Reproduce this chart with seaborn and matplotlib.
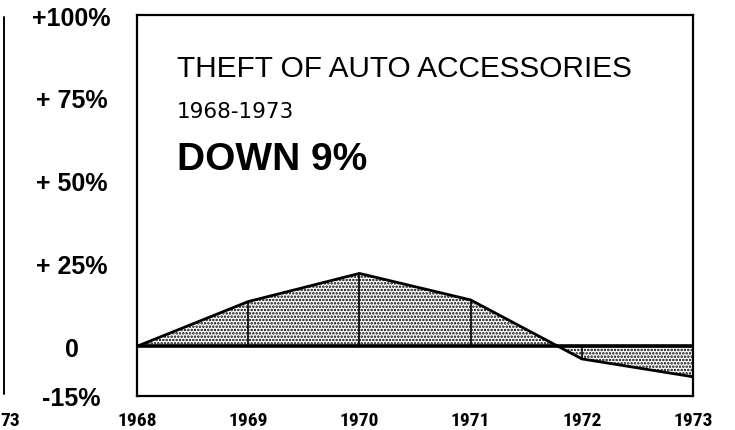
import matplotlib
matplotlib.use("Agg")
import matplotlib.pyplot as plt
import seaborn as sns
import pandas as pd
from matplotlib.lines import Line2D
from matplotlib import font_manager

# data (percent change vs. 1968)
years = [1968, 1969, 1970, 1971, 1972, 1973]
change = [0, 13.5, 22, 14, -3.8, -9.2]
ytick_values = [100, 75, 50, 25, 0, -15]
ytick_labels = ["+100%", "+ 75%", "+ 50%", "+ 25%", "0", "-15%"]

title = "THEFT OF AUTO ACCESSORIES"
period = "1968-1973"
headline = "DOWN 9%"

df = pd.DataFrame({"year": years, "change": change})

sns.set_theme(style="white")
plt.rcParams["hatch.linewidth"] = 1.2
plt.rcParams["text.color"] = "black"
plt.rcParams["xtick.color"] = "black"
plt.rcParams["ytick.color"] = "black"

# the year labels are printed in a condensed bold face
installed = {f.name for f in font_manager.fontManager.ttflist}
narrow = ["DejaVu Sans"]
for name in ["Liberation Sans Narrow", "Roboto Condensed", "DejaVu Sans Condensed",
             "Open Sans Condensed", "Noto Sans Condensed"]:
    if name in installed:
        narrow = [name, "DejaVu Sans"]
        break
plain = ["Liberation Sans", "DejaVu Sans"]

fig = plt.figure(figsize=(7.35, 4.31), dpi=100)
W, H = 735, 431
ax = fig.add_axes([137 / W, 1 - 397 / H, (693 - 137) / W, (397 - 16) / H])

# stippled area between the curve and zero
ax.fill_between(df["year"], df["change"], 0, facecolor="white",
                edgecolor="black", hatch=".....", linewidth=0)
sns.lineplot(data=df, x="year", y="change", color="black", linewidth=2.0, ax=ax)
ax.vlines(df["year"][1:-1], 0, df["change"][1:-1], color="black", linewidth=1.2)
ax.axhline(0, color="black", linewidth=2.6)

ax.set_xlim(years[0], years[-1])
ax.set_ylim(-15, 100)
ax.set_xlabel("")
ax.set_ylabel("")

ax.set_xticks(years)
ax.set_xticklabels([str(y) for y in years], family=narrow, fontweight="bold", fontsize=14)
ax.set_yticks(ytick_values)
ax.set_yticklabels(ytick_labels, family=plain, fontweight="bold", fontsize=18)
for lab in ax.get_yticklabels():
    lab.set_horizontalalignment("center")
ax.tick_params(axis="y", length=0, pad=47)
ax.tick_params(axis="x", length=0, pad=11)

for side in ax.spines.values():
    side.set_color("black")
    side.set_linewidth(1.6)

ax.text(0.072, 0.840, title, transform=ax.transAxes, family=plain,
        fontsize=21.4, va="baseline", ha="left")
ax.text(0.072, 0.732, period, transform=ax.transAxes, family=["DejaVu Sans"],
        fontsize=15.5, va="baseline", ha="left")
ax.text(0.072, 0.596, headline, transform=ax.transAxes, family=plain,
        fontweight="bold", fontsize=28, va="baseline", ha="left")

# edge of the neighbouring chart on the left
fig.add_artist(Line2D([3.5 / W, 3.5 / W], [1 - 18 / H, 1 - 395 / H],
                      color="black", linewidth=1.4))
fig.text(0.0, 1 - 421 / H, "73", family=narrow, fontweight="bold",
         fontsize=14, va="center", ha="left")

fig.savefig("out.png", dpi=100)
